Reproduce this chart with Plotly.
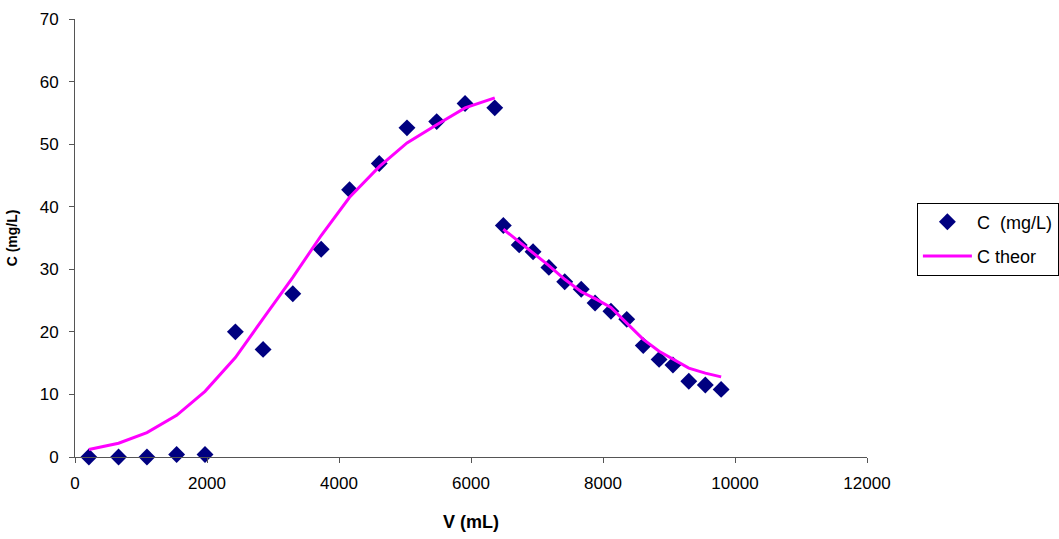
import plotly.graph_objects as go

# Measured data
v_meas = [210, 660, 1090, 1540, 1970, 2430, 2850, 3300, 3730, 4160, 4610, 5030, 5480, 5910, 6360,
          6490, 6730, 6940, 7180, 7420, 7670, 7880, 8120, 8360, 8610, 8850, 9060, 9300, 9550, 9790]
c_meas = [0, 0, 0, 0.4, 0.4, 20.0, 17.2, 26.1, 33.2, 42.7, 46.9, 52.6, 53.6, 56.5, 55.8,
          37.0, 33.9, 32.8, 30.3, 28.0, 26.8, 24.6, 23.3, 22.0, 17.8, 15.6, 14.7, 12.1, 11.5, 10.8]

# Theoretical curve (two segments, separated by a gap)
v_theor1 = [210, 660, 1090, 1540, 1970, 2430, 2850, 3300, 3730, 4160, 4610, 5030, 5480, 5910, 6360]
c_theor1 = [1.2, 2.2, 3.9, 6.65, 10.5, 15.9, 22.1, 28.7, 35.4, 41.5, 46.4, 50.2, 53.1, 55.8, 57.4]
v_theor2 = [6490, 6730, 6940, 7180, 7420, 7670, 7880, 8120, 8360, 8610, 8850, 9060, 9300, 9550, 9790]
c_theor2 = [36.4, 34.4, 32.6, 30.6, 28.4, 26.4, 25.3, 23.9, 21.4, 18.8, 16.9, 15.6, 14.2, 13.4, 12.8]

x_ticks = [0, 2000, 4000, 6000, 8000, 10000, 12000]
y_ticks = [0, 10, 20, 30, 40, 50, 60, 70]

v_line = v_theor1 + [None] + v_theor2
c_line = c_theor1 + [None] + c_theor2

FONT = "Liberation Sans, Arial, sans-serif"

fig = go.Figure()
fig.add_trace(go.Scatter(
    x=v_meas, y=c_meas, mode="markers", name="C  (mg/L)", legendgroup="a",
    marker=dict(symbol="diamond", size=13, color="#000080"),
    cliponaxis=False,
))
fig.add_trace(go.Scatter(
    x=v_line, y=c_line, mode="lines", name="C theor", legendgroup="b",
    line=dict(color="#FF00FF", width=3), connectgaps=False,
    cliponaxis=False,
))

fig.update_layout(
    width=1059, height=539,
    margin=dict(l=75, r=192, t=19, b=82, autoexpand=False),
    plot_bgcolor="white", paper_bgcolor="white",
    font=dict(family=FONT, size=17, color="black"),
    showlegend=True,
    legend=dict(
        x=1.063, y=0.581, xanchor="left", yanchor="top",
        bordercolor="black", borderwidth=1, bgcolor="white",
        font=dict(family=FONT, size=18, color="black"),
        tracegroupgap=8, itemwidth=49,
    ),
    xaxis=dict(
        range=[0, 12000], tickvals=x_ticks, ticktext=[str(t) for t in x_ticks],
        showgrid=False, zeroline=False, showline=True, linecolor="#555555", linewidth=1,
        ticks="outside", ticklen=5, tickcolor="#555555", ticklabelstandoff=6,
        tickfont=dict(size=17), automargin=False,
        title=dict(text="<b>V (mL)</b>", font=dict(size=18), standoff=22),
    ),
    yaxis=dict(
        range=[0, 70], tickvals=y_ticks, ticktext=[str(t) for t in y_ticks],
        showgrid=False, zeroline=False, showline=True, linecolor="#555555", linewidth=1,
        ticks="outside", ticklen=5, tickcolor="#555555", ticklabelstandoff=7,
        tickfont=dict(size=17), automargin=False,
        title=dict(text="<b>C (mg/L)</b>", font=dict(size=14), standoff=18),
    ),
)

fig.write_html("out.html")
